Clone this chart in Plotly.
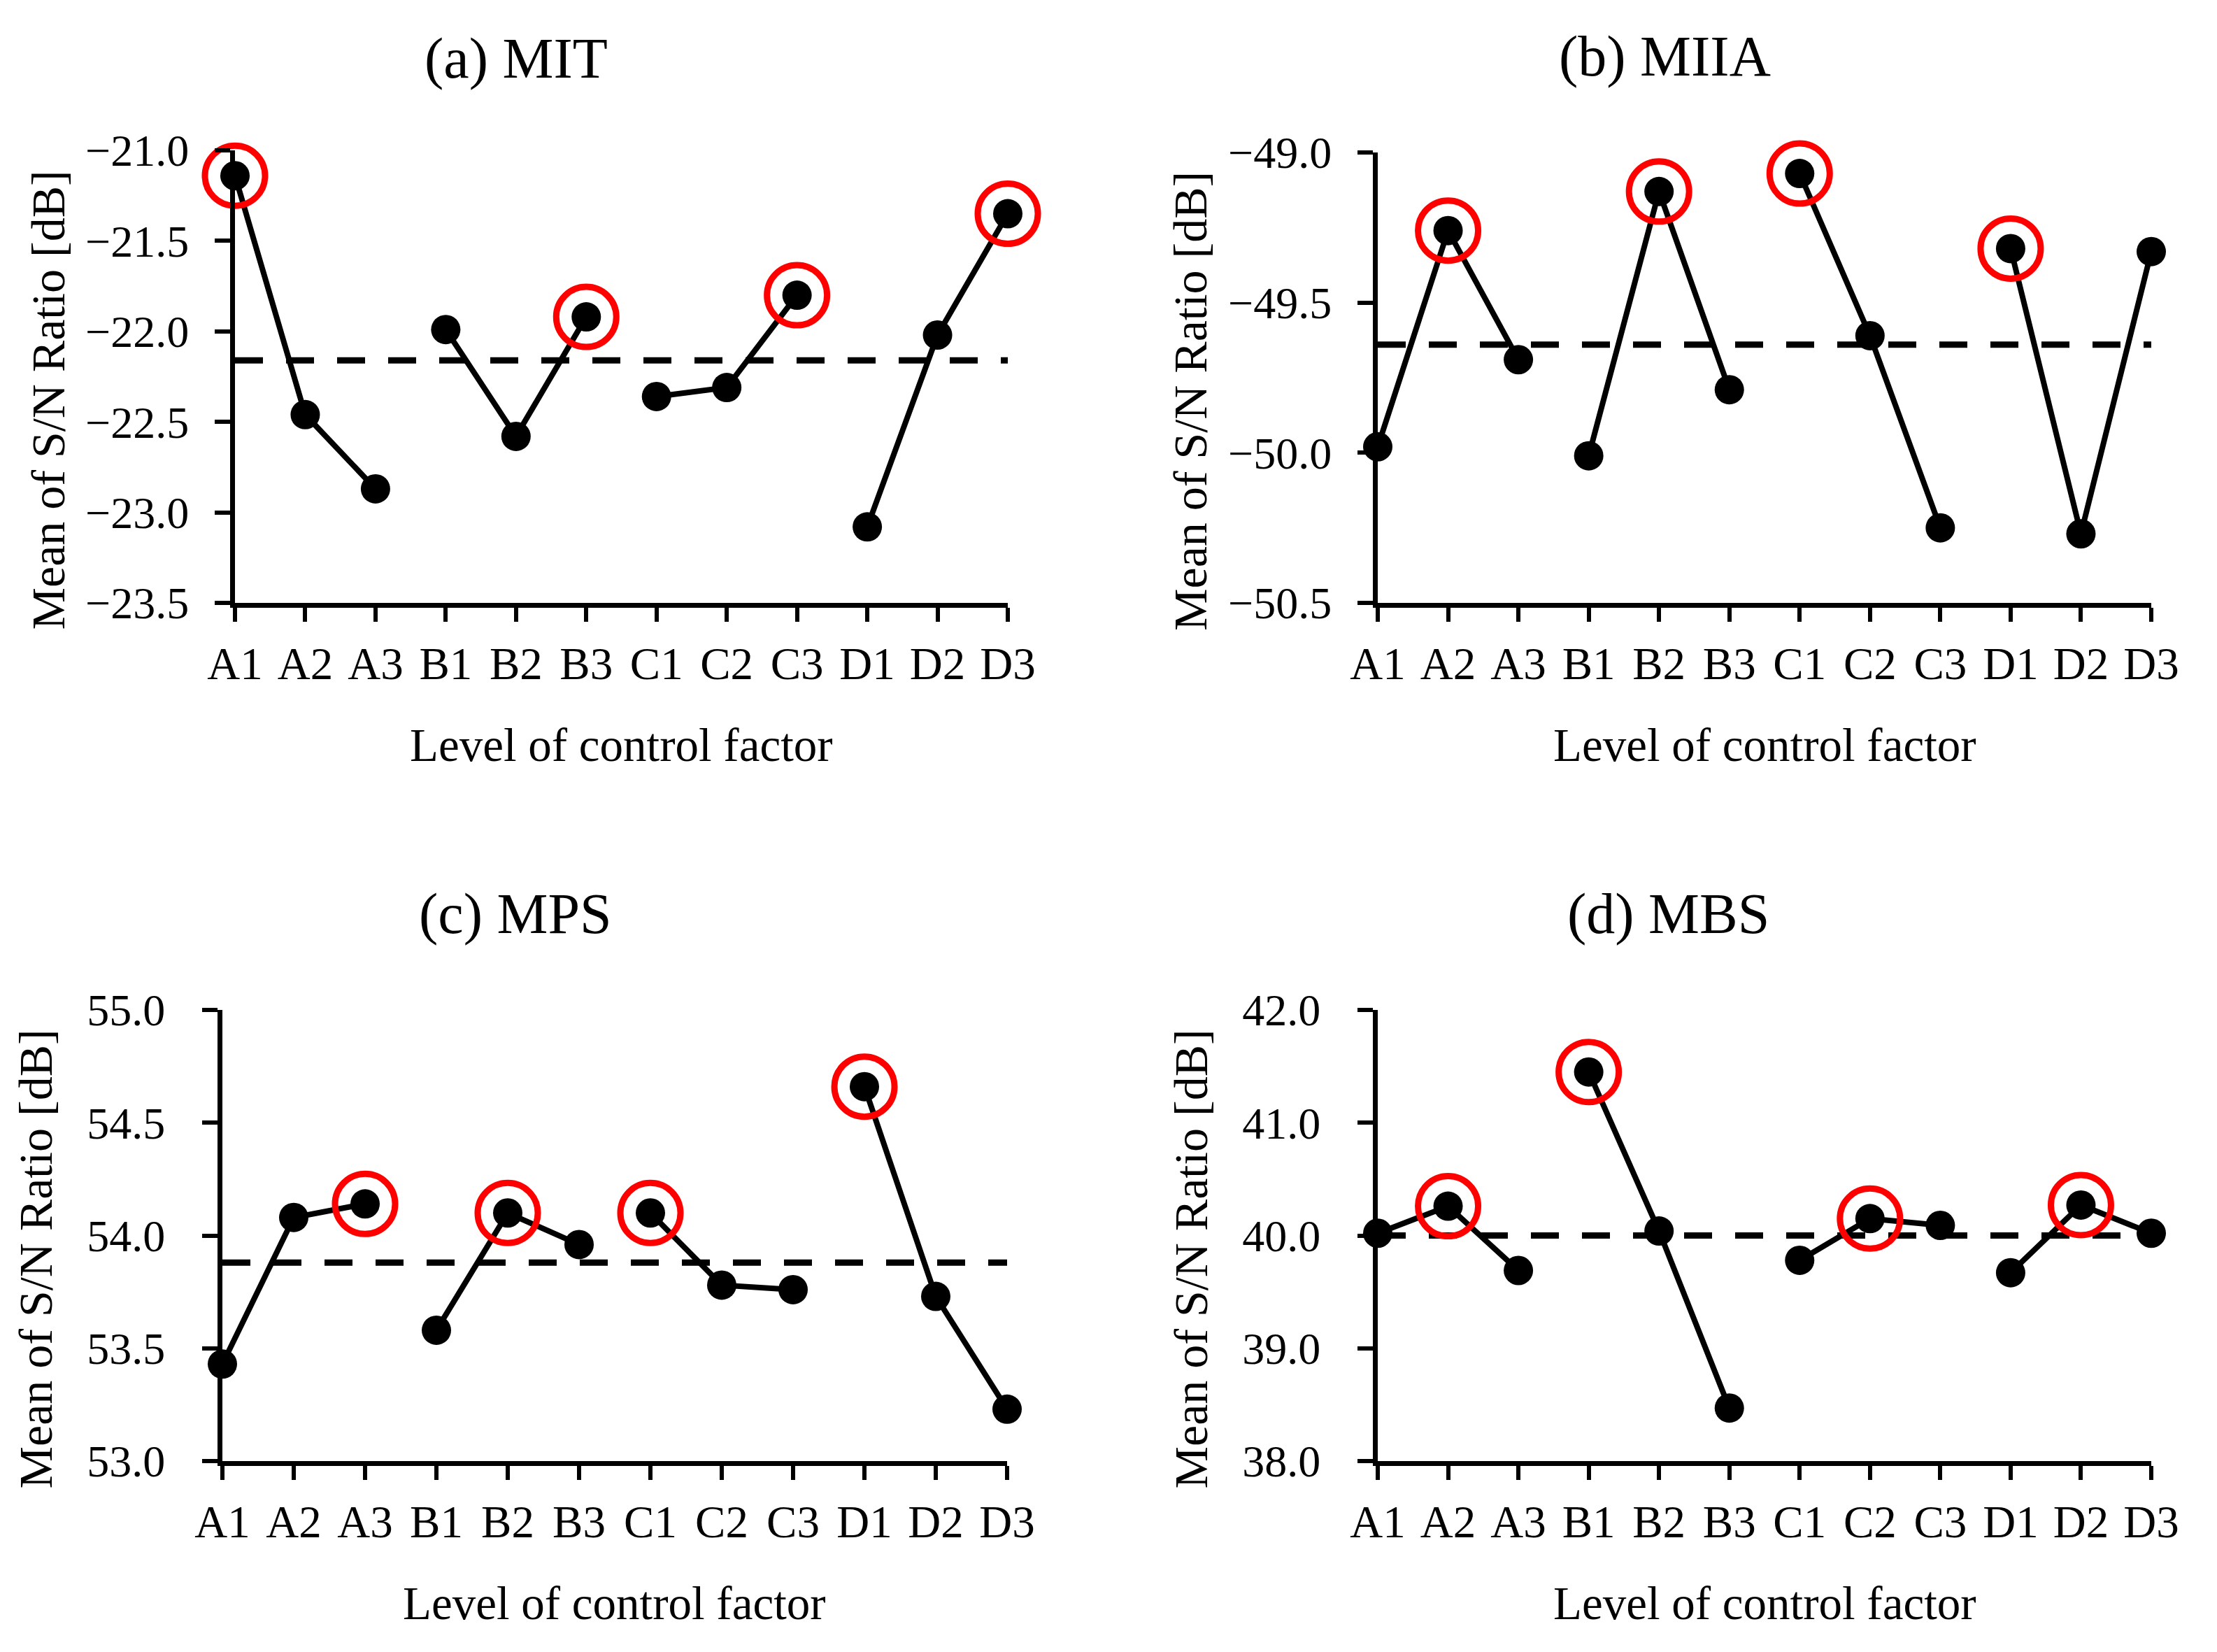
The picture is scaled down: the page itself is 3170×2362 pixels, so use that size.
import plotly.graph_objects as go

levels = ["A1", "A2", "A3", "B1", "B2", "B3", "C1", "C2", "C3", "D1", "D2", "D3"]
groups = [[0, 1, 2], [3, 4, 5], [6, 7, 8], [9, 10, 11]]

titles = ["(a) MIT", "(b) MIIA", "(c) MPS", "(d) MBS"]

mit = [-21.14, -22.46, -22.87, -21.99, -22.58, -21.92, -22.36, -22.31, -21.80, -23.08, -22.02, -21.35]
miia = [-49.98, -49.26, -49.69, -50.01, -49.13, -49.79, -49.07, -49.61, -50.25, -49.32, -50.27, -49.33]
mps = [53.43, 54.08, 54.14, 53.58, 54.10, 53.96, 54.10, 53.78, 53.76, 54.66, 53.73, 53.23]
mbs = [40.02, 40.26, 39.69, 41.45, 40.04, 38.47, 39.78, 40.15, 40.09, 39.67, 40.27, 40.02]

means = [-22.16, -49.64, 53.88, 40.00]

optimal = [[0, 5, 8, 11], [1, 4, 6, 9], [2, 4, 6, 9], [1, 3, 7, 10]]

y_ranges = [[-23.5, -21.0], [-50.5, -49.0], [53.0, 55.0], [38.0, 42.0]]
y_dticks = [0.5, 0.5, 0.5, 1.0]

series = [mit, miia, mps, mbs]

W, H = 3170, 2362
FONT = "Liberation Serif"

# panel geometry in pixels (left, right, top, bottom)
panels = [
    (336, 1441, 215, 862),
    (1970, 3076, 218, 862),
    (318, 1440, 1444, 2089),
    (1970, 3076, 1444, 2089),
]
ylab_standoff = [24, 24, 40, 40]
title_pos = [(738, 83), (2380, 80), (737, 1306), (2385, 1306)]

fig = go.Figure()
annotations = []

for k in range(4):
    l, r, t, b = panels[k]
    xa = "xaxis" if k == 0 else f"xaxis{k+1}"
    ya = "yaxis" if k == 0 else f"yaxis{k+1}"
    xr = "x" if k == 0 else f"x{k+1}"
    yr = "y" if k == 0 else f"y{k+1}"
    vals = series[k]

    # mean dashed line
    fig.add_trace(go.Scatter(
        x=[0, len(levels) - 1], y=[means[k], means[k]], mode="lines",
        line=dict(color="black", width=9, dash="40px,33px"),
        xaxis=xr, yaxis=yr, showlegend=False, hoverinfo="skip", cliponaxis=False))

    # factor lines
    for g in groups:
        fig.add_trace(go.Scatter(
            x=g, y=[vals[i] for i in g], mode="lines+markers",
            line=dict(color="black", width=8),
            marker=dict(color="black", size=42),
            xaxis=xr, yaxis=yr, showlegend=False, cliponaxis=False))

    # optimal-level circles
    fig.add_trace(go.Scatter(
        x=optimal[k], y=[vals[i] for i in optimal[k]], mode="markers",
        marker=dict(symbol="circle-open", size=86, color="#FF0000",
                    line=dict(color="#FF0000", width=9)),
        xaxis=xr, yaxis=yr, showlegend=False, cliponaxis=False))

    fig.layout[xa] = dict(
        domain=[l / W, r / W], anchor=yr, range=[0, len(levels) - 1],
        tickvals=list(range(len(levels))), ticktext=levels, automargin=False,
        showline=True, linecolor="black", linewidth=7, mirror=False,
        ticks="outside", ticklen=20, tickwidth=6, tickcolor="black",
        showgrid=False, zeroline=False, ticklabelstandoff=4,
        tickfont=dict(family=FONT, size=65, color="black"), fixedrange=True)
    fig.layout[ya] = dict(
        domain=[1 - b / H, 1 - t / H], anchor=xr, range=y_ranges[k],
        dtick=y_dticks[k], tick0=y_ranges[k][0], tickformat=".1f", automargin=False,
        showline=True, linecolor="black", linewidth=7,
        ticks="outside", ticklen=22, tickwidth=6, tickcolor="black",
        showgrid=False, zeroline=False, ticklabelstandoff=ylab_standoff[k],
        tickfont=dict(family=FONT, size=64, color="black"), fixedrange=True)

    tx, ty = title_pos[k]
    annotations.append(dict(
        text=titles[k], x=tx / W, y=1 - ty / H, xref="paper", yref="paper",
        xanchor="center", yanchor="middle", showarrow=False,
        font=dict(family=FONT, size=82, color="black")))
    annotations.append(dict(
        text="Level of control factor", x=(l + r) / 2 / W, y=1 - (b + 203) / H,
        xref="paper", yref="paper", xanchor="center", yanchor="middle",
        showarrow=False, font=dict(family=FONT, size=67, color="black")))
    annotations.append(dict(
        text="Mean of S/N Ratio [dB]", x=(l - 268) / W, y=1 - ((t + b) / 2 + 34) / H,
        xref="paper", yref="paper", xanchor="center", yanchor="middle",
        textangle=-90, showarrow=False,
        font=dict(family=FONT, size=68, color="black")))

fig.update_layout(
    template="none",
    width=W, height=H, margin=dict(l=0, r=0, t=0, b=0, pad=0, autoexpand=False),
    paper_bgcolor="white", plot_bgcolor="white",
    annotations=annotations, showlegend=False)

fig.write_html("out.html", config={"displayModeBar": False},
               post_script="document.body.style.margin='0px';")
